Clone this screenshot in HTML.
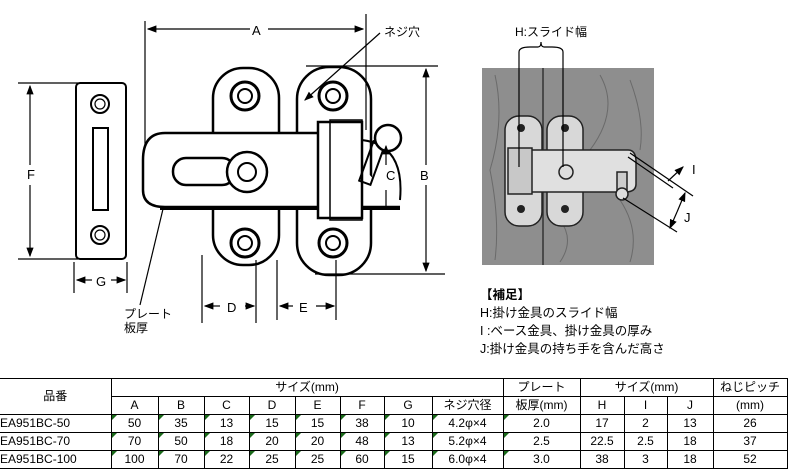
<!DOCTYPE html>
<html><head><meta charset="utf-8"><style>
body{margin:0;background:#fff;width:792px;height:476px;overflow:hidden;font-family:"Liberation Sans","Noto Sans CJK JP",sans-serif;}
svg{position:absolute;left:0;top:0}
table{position:absolute;left:0;top:378px;border-collapse:collapse;font-size:12px;}
td{border:1px solid #000;text-align:center;padding:0;height:17px;line-height:15px;position:relative}
td.l{text-align:left;border-left:none}
.g::before{content:"";position:absolute;left:0;top:0;border-top:5px solid #1a6a1a;border-right:5px solid transparent}
.leg{position:absolute;left:480px;font-size:12.5px;white-space:nowrap}
</style></head><body>
<svg width="792" height="476" viewBox="0 0 792 476" font-family="Liberation Sans, Noto Sans CJK JP, sans-serif" font-size="13">
<defs><marker id="ar" markerWidth="8" markerHeight="8" refX="7" refY="4" orient="auto"><path d="M0,1 L8,4 L0,7z" fill="#000"/></marker></defs>
<g stroke="#000" fill="none" stroke-width="1.2">
<!-- A -->
<line x1="145" y1="21" x2="145" y2="170"/><line x1="366" y1="14" x2="366" y2="130"/>
<line x1="250" y1="29" x2="148" y2="29" marker-end="url(#ar)"/><line x1="268" y1="29" x2="363" y2="29" marker-end="url(#ar)"/>
<line x1="380" y1="33" x2="305" y2="100" marker-end="url(#ar)"/>
<!-- strike plate -->
<rect x="76" y="83" width="50" height="176" rx="4" stroke-width="2"/>
<circle cx="100" cy="104" r="9" stroke-width="2"/><circle cx="100" cy="104" r="5"/>
<circle cx="100" cy="235" r="9" stroke-width="2"/><circle cx="100" cy="235" r="5"/>
<rect x="93" y="128" width="15" height="82" stroke-width="2"/>
<line x1="18" y1="83" x2="78" y2="83"/><line x1="18" y1="259" x2="78" y2="259"/>
<line x1="30" y1="165" x2="30" y2="86" marker-end="url(#ar)"/><line x1="30" y1="185" x2="30" y2="256" marker-end="url(#ar)"/>
<line x1="74" y1="262" x2="74" y2="293"/><line x1="127" y1="262" x2="127" y2="293"/>
<line x1="92" y1="280" x2="77" y2="280" marker-end="url(#ar)"/><line x1="111" y1="280" x2="125" y2="280" marker-end="url(#ar)"/>
<!-- plates -->
<rect x="213" y="68" width="66" height="197" rx="30" stroke-width="2.5"/>
<rect x="297" y="67" width="74" height="208" rx="32" stroke-width="2.5"/>
<circle cx="245" cy="96" r="14" stroke-width="3"/><circle cx="245" cy="96" r="7" stroke-width="2"/>
<circle cx="333" cy="96" r="14" stroke-width="3"/><circle cx="333" cy="96" r="7" stroke-width="2"/>
<circle cx="245" cy="243" r="14" stroke-width="3"/><circle cx="245" cy="243" r="7" stroke-width="2"/>
<circle cx="333" cy="243" r="14" stroke-width="3"/><circle cx="333" cy="243" r="7" stroke-width="2"/>
<!-- bar -->
<path d="M330,133 H165 Q143,133 143,160 V190 Q143,207 165,207 H400" fill="#fff" stroke-width="2.5"/>
<line x1="160" y1="209" x2="400" y2="209" stroke-width="2"/>
<rect x="173" y="158" width="62" height="27" rx="13" stroke-width="2.5"/>
<circle cx="247" cy="172" r="20" fill="#fff" stroke-width="2.5"/><circle cx="247" cy="172" r="9" stroke-width="2"/>
<rect x="318" y="122" width="44" height="96" fill="#fff" stroke-width="2.5"/>
<rect x="330" y="120" width="32" height="100" stroke-width="1.5"/>
<path d="M362,140 Q405,145 400,200" stroke-width="2"/>
<rect x="366" y="142" width="12" height="42" transform="rotate(20 372 163)" stroke-width="2"/>
<circle cx="388" cy="138" r="13" fill="#fff" stroke-width="2.5"/>
<line x1="386" y1="165" x2="386" y2="146" marker-end="url(#ar)"/><line x1="386" y1="190" x2="386" y2="206"/>
<!-- B -->
<line x1="306" y1="66" x2="438" y2="66"/><line x1="315" y1="274" x2="445" y2="274"/>
<line x1="426" y1="165" x2="426" y2="69" marker-end="url(#ar)"/><line x1="426" y1="185" x2="426" y2="271" marker-end="url(#ar)"/>
<!-- D E -->
<line x1="202" y1="255" x2="202" y2="323"/><line x1="256" y1="260" x2="256" y2="323"/>
<line x1="277" y1="260" x2="277" y2="320"/><line x1="336" y1="260" x2="336" y2="320"/>
<line x1="220" y1="306" x2="205" y2="306" marker-end="url(#ar)"/><line x1="245" y1="306" x2="254" y2="306" marker-end="url(#ar)"/>
<line x1="293" y1="306" x2="280" y2="306" marker-end="url(#ar)"/><line x1="316" y1="306" x2="334" y2="306" marker-end="url(#ar)"/>
<line x1="140" y1="305" x2="163" y2="209"/>
</g>
<g font-size="13">
<text x="252" y="35">A</text><text x="384" y="36" font-size="12">ネジ穴</text>
<text x="27" y="179">F</text><text x="96" y="286">G</text>
<text x="386" y="180">C</text><text x="420" y="180">B</text>
<text x="227" y="312">D</text><text x="299" y="312">E</text>
<text x="124" y="318" font-size="12">プレート</text><text x="124" y="332" font-size="12">板厚</text>
</g>
<!-- photo -->
<rect x="482" y="68" width="172" height="197" fill="#8e8e8e"/>
<g stroke="#6a6a6a" fill="none" stroke-width="1">
<path d="M495,75 Q505,120 490,170 Q500,220 495,260"/><path d="M600,75 Q620,110 590,150"/><path d="M620,200 Q640,230 630,262"/><path d="M560,220 Q575,240 560,262"/><path d="M630,80 Q645,120 640,150"/>
</g>
<line x1="543" y1="68" x2="543" y2="265" stroke="#333" stroke-width="1.5"/>
<g stroke="#222" stroke-width="1.5" fill="#d8d8d8">
<rect x="505" y="116" width="37" height="110" rx="14"/>
<rect x="547" y="116" width="36" height="110" rx="14"/>
<path d="M510,150 H628 Q636,150 636,162 V184 Q636,192 625,192 H510z" fill="#e0e0e0"/>
<rect x="508" y="148" width="24" height="46" fill="#c8c8c8"/>
<circle cx="566" cy="172" r="7" fill="#ddd"/>
<rect x="617" y="172" width="10" height="20" fill="#ccc"/>
<circle cx="622" cy="194" r="6" fill="#ddd"/>
</g>
<g fill="#222"><circle cx="521" cy="128" r="4"/><circle cx="565" cy="128" r="4"/><circle cx="521" cy="209" r="4"/><circle cx="565" cy="209" r="4"/></g>
<g stroke="#000" stroke-width="1.2" fill="none">
<line x1="519" y1="52" x2="519" y2="167"/><line x1="563" y1="52" x2="563" y2="167"/>
<path d="M519,52 Q519,47 530,47 H538 Q541,47 541,42 Q541,47 544,47 H552 Q563,47 563,52"/>
<line x1="630" y1="153" x2="693" y2="196"/><line x1="628" y1="157" x2="673" y2="188"/>
<line x1="623" y1="198" x2="677" y2="232"/>
<line x1="668" y1="181" x2="683" y2="167" marker-end="url(#ar)"/>
<line x1="677" y1="212" x2="685" y2="193" marker-end="url(#ar)"/><line x1="677" y1="212" x2="670" y2="228" marker-end="url(#ar)"/>
</g>
<text x="515" y="36" font-size="12">H:スライド幅</text>
<text x="692" y="174" font-size="13">I</text><text x="684" y="222" font-size="13">J</text>
</svg>
<div class="leg" style="top:284px;font-weight:bold">【補足】</div>
<div class="leg" style="top:302px">H:掛け金具のスライド幅</div>
<div class="leg" style="top:320px">I :ベース金具、掛け金具の厚み</div>
<div class="leg" style="top:338px">J:掛け金具の持ち手を含んだ高さ</div>
<table>
<colgroup><col style="width:111px"><col style="width:47px"><col style="width:46px"><col style="width:45px"><col style="width:46px"><col style="width:45px"><col style="width:44px"><col style="width:48px"><col style="width:71px"><col style="width:77px"><col style="width:44px"><col style="width:43px"><col style="width:46px"><col style="width:74px"></colgroup>
<tr><td rowspan="2" class="l" style="text-align:center;border-left:none">品番</td><td colspan="8">サイズ(mm)</td><td>プレート</td><td colspan="3">サイズ(mm)</td><td>ねじピッチ</td></tr>
<tr><td>A</td><td>B</td><td>C</td><td>D</td><td>E</td><td>F</td><td>G</td><td>ネジ穴径</td><td>板厚(mm)</td><td>H</td><td>I</td><td>J</td><td>(mm)</td></tr>
<tr><td class="l">EA951BC-50</td><td class="g">50</td><td class="g">35</td><td class="g">13</td><td class="g">15</td><td class="g">15</td><td class="g">38</td><td class="g">10</td><td class="g">4.2φ×4</td><td class="g">2.0</td><td>17</td><td>2</td><td>13</td><td>26</td></tr>
<tr><td class="l">EA951BC-70</td><td class="g">70</td><td class="g">50</td><td class="g">18</td><td class="g">20</td><td class="g">20</td><td class="g">48</td><td class="g">13</td><td class="g">5.2φ×4</td><td class="g">2.5</td><td>22.5</td><td>2.5</td><td>18</td><td>37</td></tr>
<tr><td class="l">EA951BC-100</td><td class="g">100</td><td class="g">70</td><td class="g">22</td><td class="g">25</td><td class="g">25</td><td class="g">60</td><td class="g">15</td><td class="g">6.0φ×4</td><td class="g">3.0</td><td>38</td><td>3</td><td>18</td><td>52</td></tr>
</table>
</body></html>
